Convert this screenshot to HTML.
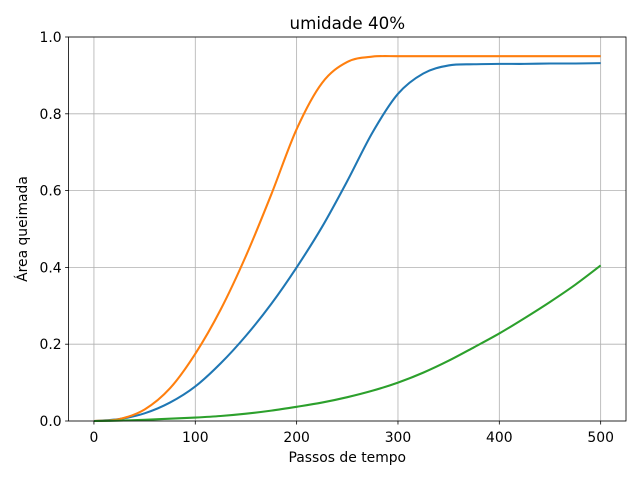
<!DOCTYPE html>
<html><head><meta charset="utf-8"><style>
body{margin:0;background:#fff;}
svg text{font-family:"DejaVu Sans","Liberation Sans",sans-serif;}
</style></head><body>
<svg id="chart" width="640" height="480" viewBox="0 0 640 480" xmlns="http://www.w3.org/2000/svg"></svg>
<script>
const xs = [0,25,50,75,100,125,150,175,200,225,250,275,300,325,350,375,400,425,450,475,500];
const blueVals = [0,0.005,0.02,0.048,0.09,0.15,0.222,0.305,0.40,0.505,0.625,0.752,0.852,0.905,0.926,0.929,0.93,0.93,0.931,0.931,0.932];
const orangeVals = [0,0.005,0.03,0.085,0.175,0.29,0.43,0.59,0.76,0.88,0.935,0.949,0.95,0.95,0.95,0.95,0.95,0.95,0.95,0.95,0.95];
const greenVals = [0,0.001,0.003,0.006,0.009,0.013,0.019,0.027,0.037,0.048,0.062,0.079,0.1,0.126,0.157,0.192,0.228,0.268,0.31,0.355,0.405];
const xTicks = [0,100,200,300,400,500];
const yTicks = [0,0.2,0.4,0.6,0.8,1.0];
const yTickLabels = ["0.0","0.2","0.4","0.6","0.8","1.0"];

const ax={l:68.6,r:626,t:37,b:421};
const X=v=>ax.l+(v+25)/550*(ax.r-ax.l);
const Y=v=>ax.b-v*(ax.b-ax.t);
const svg=document.getElementById('chart');
const NS='http://www.w3.org/2000/svg';
function mk(tag,attrs,parent){const e=document.createElementNS(NS,tag);for(const k in attrs)e.setAttribute(k,attrs[k]);(parent||svg).appendChild(e);return e;}

const grid=mk('g',{});


xTicks.forEach(t=>{mk('line',{x1:X(t),x2:X(t),y1:ax.t,y2:ax.b,stroke:'#b0b0b0','stroke-width':0.8},grid);});
yTicks.forEach(t=>{mk('line',{x1:ax.l,x2:ax.r,y1:Y(t),y2:Y(t),stroke:'#b0b0b0','stroke-width':0.8},grid);});

function path(vals){
  const p=xs.map((x,i)=>[X(x),Y(vals[i])]);
  let d=`M${p[0][0]},${p[0][1]}`;
  for(let i=0;i<p.length-1;i++){
    const p0=p[Math.max(0,i-1)],p1=p[i],p2=p[i+1],p3=p[Math.min(p.length-1,i+2)];
    const c1=[p1[0]+(p2[0]-p0[0])/6,p1[1]+(p2[1]-p0[1])/6];
    const c2=[p2[0]-(p3[0]-p1[0])/6,p2[1]-(p3[1]-p1[1])/6];
    d+=` C${c1[0]},${c1[1]} ${c2[0]},${c2[1]} ${p2[0]},${p2[1]}`;
  }
  return d;
}
const series=[['series-blue',blueVals,'#1f77b4'],['series-orange',orangeVals,'#ff7f0e'],['series-green',greenVals,'#2ca02c']];
series.forEach(s=>{
  const e=mk('path',{d:path(s[1]),fill:'none',stroke:s[2],'stroke-width':2.08});
  
  
});

const frame=mk('rect',{x:ax.l,y:ax.t,width:ax.r-ax.l,height:ax.b-ax.t,fill:'none',stroke:'#000','stroke-width':0.8});



xTicks.forEach(t=>{
  mk('line',{x1:X(t),x2:X(t),y1:ax.b,y2:ax.b+3.5,stroke:'#000','stroke-width':0.8});
  const tx=mk('text',{x:X(t),y:ax.b+21,'font-size':13.9,'text-anchor':'middle'});
  tx.textContent=t;
  
  
});
yTicks.forEach((t,i)=>{
  mk('line',{x1:ax.l-3.5,x2:ax.l,y1:Y(t),y2:Y(t),stroke:'#000','stroke-width':0.8});
  const tx=mk('text',{x:ax.l-7,y:Y(t)+5,'font-size':13.9,'text-anchor':'end'});
  tx.textContent=yTickLabels[i];
  
  
});
const xt=mk('text',{x:(ax.l+ax.r)/2,y:462,'font-size':13.9,'text-anchor':'middle'});
xt.textContent='Passos de tempo';


const yt=mk('text',{x:0,y:0,'font-size':13.9,'text-anchor':'middle',transform:`translate(27,${(ax.t+ax.b)/2}) rotate(-90)`});
yt.textContent='Área queimada';


const tt=mk('text',{x:(ax.l+ax.r)/2,y:29,'font-size':16.7,'text-anchor':'middle'});
tt.textContent='umidade 40%';


</script>
</body></html>
